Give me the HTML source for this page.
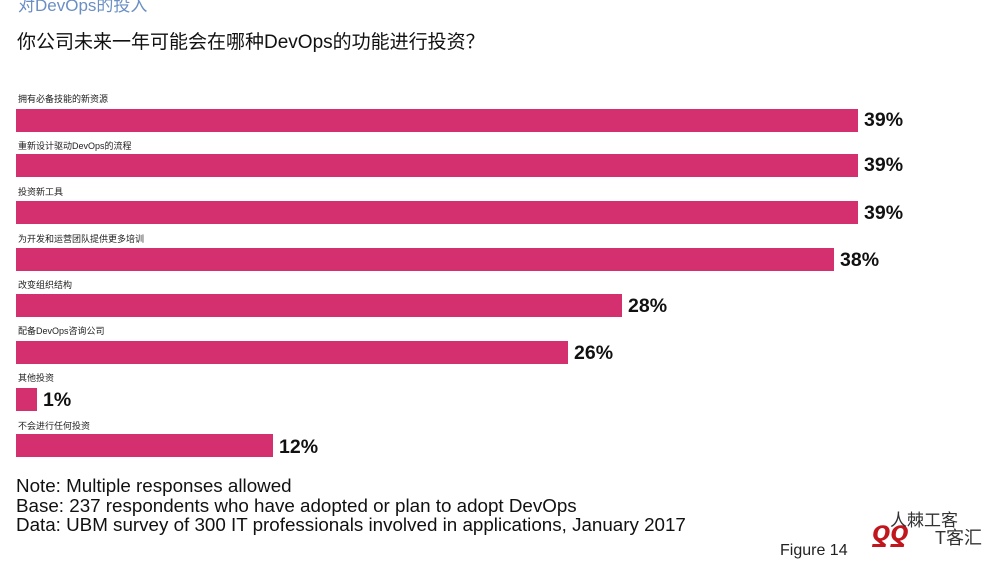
<!DOCTYPE html>
<html><head><meta charset="utf-8"><style>
body{margin:0;width:1000px;height:563px;background:#fff;position:relative;overflow:hidden;font-family:"Liberation Sans","Noto Sans CJK SC",sans-serif}
.a{position:absolute;white-space:nowrap}
.bar{position:absolute;left:16px;height:23px;background:#d42f6e}
.lab{position:absolute;left:18px;font-size:9px;color:#222}
.pct{position:absolute;font-size:19.5px;font-weight:bold;color:#111}
</style></head><body>
<div class="a" style="left:18px;top:-9px;font-size:17px;color:#6b8fc4">对DevOps的投入</div>
<div class="a" style="left:17px;top:27px;font-size:19px;color:#111">你公司未来一年可能会在哪种DevOps的功能进行投资？</div>

<div class="lab" style="top:92px">拥有必备技能的新资源</div>
<div class="bar" style="top:109px;width:842px"></div><div class="pct" style="left:864px;top:109px">39%</div>
<div class="lab" style="top:139px">重新设计驱动DevOps的流程</div>
<div class="bar" style="top:154px;width:842px"></div><div class="pct" style="left:864px;top:154px">39%</div>
<div class="lab" style="top:185px">投资新工具</div>
<div class="bar" style="top:201px;width:842px"></div><div class="pct" style="left:864px;top:202px">39%</div>
<div class="lab" style="top:232px">为开发和运营团队提供更多培训</div>
<div class="bar" style="top:248px;width:818px"></div><div class="pct" style="left:840px;top:249px">38%</div>
<div class="lab" style="top:278px">改变组织结构</div>
<div class="bar" style="top:294px;width:606px"></div><div class="pct" style="left:628px;top:295px">28%</div>
<div class="lab" style="top:324px">配备DevOps咨询公司</div>
<div class="bar" style="top:341px;width:552px"></div><div class="pct" style="left:574px;top:342px">26%</div>
<div class="lab" style="top:371px">其他投资</div>
<div class="bar" style="top:388px;width:21px"></div><div class="pct" style="left:43px;top:389px">1%</div>
<div class="lab" style="top:419px">不会进行任何投资</div>
<div class="bar" style="top:434px;width:257px"></div><div class="pct" style="left:279px;top:436px">12%</div>

<div class="a" style="left:16px;top:476px;font-size:18.8px;color:#111;line-height:19.5px">Note: Multiple responses allowed<br>Base: 237 respondents who have adopted or plan to adopt DevOps<br>Data: UBM survey of 300 IT professionals involved in applications, January 2017</div>
<div class="a" style="left:780px;top:542px;font-size:16px;color:#222">Figure 14</div>
<div class="a" style="left:872px;top:515px;font-size:30px;color:#c0161c;font-style:italic;font-weight:bold">ƍƍ</div>
<div class="a" style="left:890px;top:506px;font-size:17px;color:#333">人棘工客</div>
<div class="a" style="left:935px;top:524px;font-size:18px;color:#333">T客汇</div>
</body></html>
